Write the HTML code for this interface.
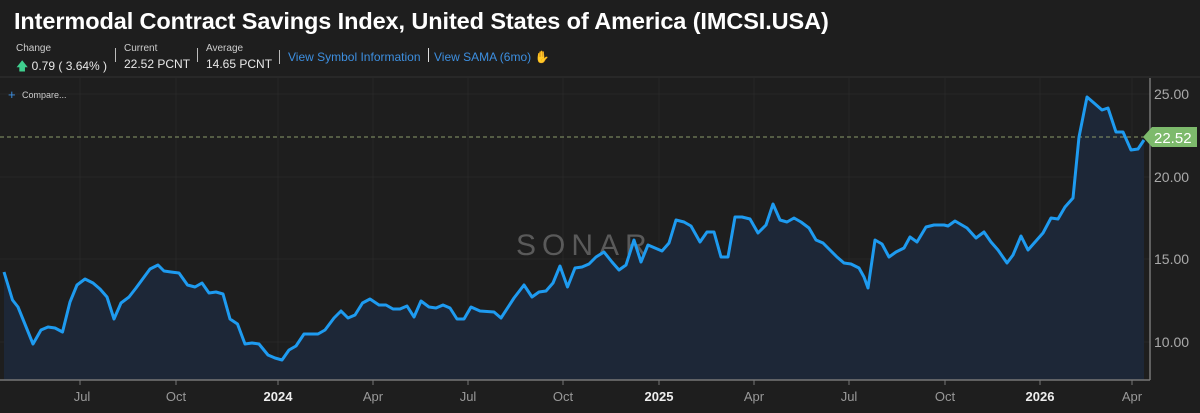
<!DOCTYPE html>
<html><head><meta charset="utf-8"><style>
body{margin:0;background:#1e1e1e;width:1200px;height:413px;overflow:hidden;font-family:"Liberation Sans",sans-serif}
.t{position:absolute;left:14px;top:8px;color:#fff;font-size:23.5px;font-weight:bold;letter-spacing:-0.1px}
.s{position:absolute;color:#ccc;font-size:10px}
.v{position:absolute;color:#e8e8e8;font-size:12px}
.l{position:absolute;color:#3d8fe0;font-size:12px}
.sep{position:absolute;width:1px;height:14px;background:#bbb}
</style></head><body>
<div class="t">Intermodal Contract Savings Index, United States of America (IMCSI.USA)</div>
<div class="s" style="left:16px;top:43px">Change</div>
<div class="v" style="left:16px;top:57px"><span style="color:#3fcf8e">&#129093;</span> 0.79 ( 3.64% )</div>
<div class="sep" style="left:115px;top:48px"></div>
<div class="s" style="left:124px;top:43px">Current</div>
<div class="v" style="left:124px;top:57px">22.52 PCNT</div>
<div class="sep" style="left:197px;top:48px"></div>
<div class="s" style="left:206px;top:43px">Average</div>
<div class="v" style="left:206px;top:57px">14.65 PCNT</div>
<div class="sep" style="left:279px;top:50px"></div>
<div class="l" style="left:288px;top:50px">View Symbol Information</div>
<div class="sep" style="left:428px;top:48px;background:#ddd"></div>
<div class="l" style="left:434px;top:50px">View SAMA (6mo) <span style="color:#e6c000">&#9995;</span></div>
<svg width="1200" height="413" style="position:absolute;left:0;top:0">
<line x1="0" y1="77" x2="1200" y2="77" stroke="#333"/>
<g stroke="#272727">
<line x1="0" y1="94" x2="1150" y2="94"/><line x1="0" y1="177" x2="1150" y2="177"/><line x1="0" y1="259" x2="1150" y2="259"/><line x1="0" y1="342" x2="1150" y2="342"/>
<line x1="80" y1="78" x2="80" y2="380"/><line x1="176" y1="78" x2="176" y2="380"/><line x1="278" y1="78" x2="278" y2="380"/><line x1="373" y1="78" x2="373" y2="380"/><line x1="468" y1="78" x2="468" y2="380"/><line x1="563" y1="78" x2="563" y2="380"/><line x1="659" y1="78" x2="659" y2="380"/><line x1="754" y1="78" x2="754" y2="380"/><line x1="849" y1="78" x2="849" y2="380"/><line x1="945" y1="78" x2="945" y2="380"/><line x1="1040" y1="78" x2="1040" y2="380"/><line x1="1132" y1="78" x2="1132" y2="380"/>
</g>
<text x="516" y="255" font-size="30" fill="#5a5a5a" letter-spacing="6" font-family="Liberation Sans">SONAR</text>
<polygon fill="#1d2737" points="4,272 12.5,300 18,307 33,344 41,330 48,327 55,328 62.5,332 70,302 77,285 85,279 93,283 100,289 107,297 114,319 121,303 129,297 136,288 150,269 158,265 164,271 171,272 179,273 187.5,285 195,287 202,283 209,293 216,292 223,294 230,319 237.5,324 245,344 252,343 259,344 268,355 275,358 282,360 289,350 296,346 304,334 318,334 325,330 334,318 341,311 348,318 355,315 362.5,303 370,299 379,305 386,305 393,309 400,309 407,306 414,317 421,301 429,307 436,308 443,305 450,308 457,319 464,319 471,307 480,311 494,312 501,318 514,298 524,285 532,297 539,292 546,291 553,283 560,266 567.5,287 575,268 582,267 589,264 596,257 604,252 612,262 619,270 626,265 634,240 641,262 648,245 655,248 662,251 669,243 676,220 684,222 691,226 700,242 707,232 714,232 721,257 728,257 735,217 742,217 750,219 758,233 766,225 773,204 780,220 787,222 794,218 801,222 809,228 816,240 823,243 830,250 837,257 844,263 851,264 859,268 864,277 868,288 875,240 882,244 889,257 896,252 904,248 910,237 917,242 926,227 934,225 944,225 948,226 955,221 967,228 976,238 984,232 991,242 998,250 1007,263 1013,255 1021,236 1028,250 1043,233 1051,218 1058,219 1065,207 1073,198 1079,137 1087,97 1094,103 1102,110 1108,108 1116,132 1123,132 1131,150 1138,149 1144,140 1144,380 4,380"/>
<line x1="0" y1="137" x2="1150" y2="137" stroke="#8a9a6a" stroke-dasharray="4,3" stroke-width="1"/>
<polyline fill="none" stroke="#1e9bf0" stroke-width="3" stroke-linejoin="round" points="4,272 12.5,300 18,307 33,344 41,330 48,327 55,328 62.5,332 70,302 77,285 85,279 93,283 100,289 107,297 114,319 121,303 129,297 136,288 150,269 158,265 164,271 171,272 179,273 187.5,285 195,287 202,283 209,293 216,292 223,294 230,319 237.5,324 245,344 252,343 259,344 268,355 275,358 282,360 289,350 296,346 304,334 318,334 325,330 334,318 341,311 348,318 355,315 362.5,303 370,299 379,305 386,305 393,309 400,309 407,306 414,317 421,301 429,307 436,308 443,305 450,308 457,319 464,319 471,307 480,311 494,312 501,318 514,298 524,285 532,297 539,292 546,291 553,283 560,266 567.5,287 575,268 582,267 589,264 596,257 604,252 612,262 619,270 626,265 634,240 641,262 648,245 655,248 662,251 669,243 676,220 684,222 691,226 700,242 707,232 714,232 721,257 728,257 735,217 742,217 750,219 758,233 766,225 773,204 780,220 787,222 794,218 801,222 809,228 816,240 823,243 830,250 837,257 844,263 851,264 859,268 864,277 868,288 875,240 882,244 889,257 896,252 904,248 910,237 917,242 926,227 934,225 944,225 948,226 955,221 967,228 976,238 984,232 991,242 998,250 1007,263 1013,255 1021,236 1028,250 1043,233 1051,218 1058,219 1065,207 1073,198 1079,137 1087,97 1094,103 1102,110 1108,108 1116,132 1123,132 1131,150 1138,149 1144,140"/>
<line x1="0" y1="380" x2="1150" y2="380" stroke="#777" stroke-width="1.5"/>
<line x1="1150" y1="78" x2="1150" y2="380" stroke="#777" stroke-width="1.5"/>
<g stroke="#777"><line x1="80" y1="380" x2="80" y2="385"/><line x1="176" y1="380" x2="176" y2="385"/><line x1="278" y1="380" x2="278" y2="385"/><line x1="373" y1="380" x2="373" y2="385"/><line x1="468" y1="380" x2="468" y2="385"/><line x1="563" y1="380" x2="563" y2="385"/><line x1="659" y1="380" x2="659" y2="385"/><line x1="754" y1="380" x2="754" y2="385"/><line x1="849" y1="380" x2="849" y2="385"/><line x1="945" y1="380" x2="945" y2="385"/><line x1="1040" y1="380" x2="1040" y2="385"/><line x1="1132" y1="380" x2="1132" y2="385"/></g>
<g font-size="13" fill="#999" text-anchor="middle" font-family="Liberation Sans">
<text x="82" y="401">Jul</text><text x="176" y="401">Oct</text><text x="278" y="401" fill="#eee" font-weight="bold">2024</text><text x="373" y="401">Apr</text><text x="468" y="401">Jul</text><text x="563" y="401">Oct</text><text x="659" y="401" fill="#eee" font-weight="bold">2025</text><text x="754" y="401">Apr</text><text x="849" y="401">Jul</text><text x="945" y="401">Oct</text><text x="1040" y="401" fill="#eee" font-weight="bold">2026</text><text x="1132" y="401">Apr</text>
</g>
<g font-size="14" fill="#aaa" font-family="Liberation Sans">
<text x="1154" y="99">25.00</text><text x="1154" y="182">20.00</text><text x="1154" y="264">15.00</text><text x="1154" y="347">10.00</text>
</g>
<polygon points="1143,137 1152,127 1197,127 1197,147 1152,147" fill="#7dba6c"/>
<text x="1154" y="143" font-size="15" fill="#fff" font-family="Liberation Sans">22.52</text>
<text x="8" y="99" font-size="13" fill="#3d8fe0">+</text>
<text x="22" y="98" font-size="9" fill="#ccc">Compare...</text>
</svg>
</body></html>
